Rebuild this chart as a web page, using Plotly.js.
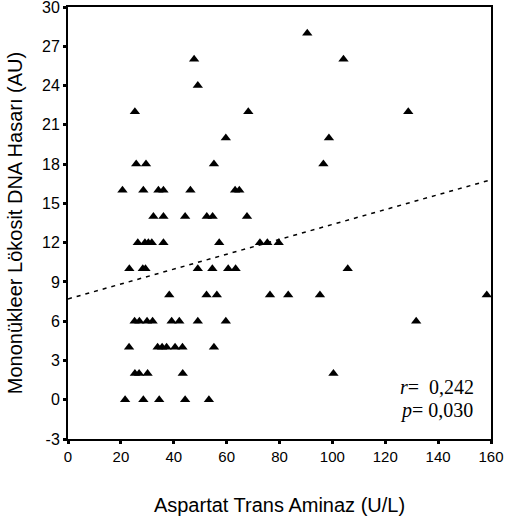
<!DOCTYPE html>
<html>
<head>
<meta charset="utf-8">
<script src="https://cdn.plot.ly/plotly-3.0.1.min.js"></script>
<style>html,body{margin:0;padding:0;background:#fff;}#chart{width:506px;height:527px;}</style>
</head>
<body>
<div id="chart"></div>
<script>
// Aspartat Trans Aminaz (U/L) values
const astValues = [
  21.6, 28.5, 34.5, 44.3, 53.3,
  25.3, 26.9, 30.1, 43.4, 100.4,
  23.1, 33.9, 35.6, 37.3, 40.5, 43.3, 55.2,
  25.2, 27.0, 29.9, 32.0, 39.2, 42.1, 49.1, 59.7, 131.7,
  38.3, 52.4, 56.3, 76.4, 83.3, 95.3, 158.4,
  23.2, 28.3, 29.3, 49.1, 54.6, 60.6, 63.4, 105.8,
  26.4, 29.1, 30.4, 31.7, 36.1, 57.2, 72.6, 75.4, 79.7,
  32.3, 36.1, 44.3, 52.5, 54.7, 67.7,
  20.6, 28.5, 34.2, 36.1, 46.3, 63.2, 64.8,
  25.8, 29.5, 55.2, 96.6,
  59.7, 98.7,
  25.3, 68.2, 128.7,
  49.1,
  47.7, 104.2,
  90.5
];
// Mononükleer Lökosit DNA Hasarı (AU) values
const dnaDamage = [
  0, 0, 0, 0, 0,
  2, 2, 2, 2, 2,
  4, 4, 4, 4, 4, 4, 4,
  6, 6, 6, 6, 6, 6, 6, 6, 6,
  8, 8, 8, 8, 8, 8, 8,
  10, 10, 10, 10, 10, 10, 10, 10,
  12, 12, 12, 12, 12, 12, 12, 12, 12,
  14, 14, 14, 14, 14, 14,
  16, 16, 16, 16, 16, 16, 16,
  18, 18, 18, 18,
  20, 20,
  22, 22, 22,
  24,
  26, 26,
  28
];
// Regression (fit) line end points
const fitX = [0, 160];
const fitY = [7.7, 16.8];
const yTicks = [-3, 0, 3, 6, 9, 12, 15, 18, 21, 24, 27, 30];
const xTicks = [0, 20, 40, 60, 80, 100, 120, 140, 160];
const statLines = ["<i>r</i>=  0,242", "<i>p</i>= 0,030"];

const traces = [
  {
    x: fitX, y: fitY, type: 'scatter', mode: 'lines',
    line: {color: '#000', width: 1.5, dash: '4px,5px'},
    hoverinfo: 'skip', showlegend: false
  },
  {
    x: astValues, y: dnaDamage, type: 'scatter', mode: 'markers',
    marker: {symbol: 'triangle-up', size: 9, color: '#000'},
    showlegend: false
  }
];

const layout = {
  width: 506, height: 527,
  margin: {l: 68, r: 15, t: 7, b: 88},
  paper_bgcolor: '#fff', plot_bgcolor: '#fff',
  font: {family: 'Arial, "Liberation Sans", sans-serif', color: '#000'},
  showlegend: false,
  xaxis: {
    range: [0, 160], tickvals: xTicks, ticktext: xTicks.map(String),
    showgrid: false, zeroline: false,
    showline: true, linecolor: '#000', linewidth: 2, mirror: true,
    ticks: 'outside', ticklen: 3, tickwidth: 3, tickcolor: '#000',
    tickfont: {size: 15, color: '#000'},
    ticklabeloverflow: 'allow',
    title: {text: 'Aspartat Trans Aminaz (U/L)', font: {size: 20, color: '#000'}, standoff: 34}
  },
  yaxis: {
    range: [-3, 30], tickvals: yTicks, ticktext: yTicks.map(String),
    showgrid: false, zeroline: false,
    showline: true, linecolor: '#000', linewidth: 2, mirror: true,
    ticks: 'outside', ticklen: 3, tickwidth: 3, tickcolor: '#000',
    tickfont: {size: 16, color: '#000'},
    ticklabeloverflow: 'allow',
    title: {text: 'Mononükleer Lökosit DNA Hasarı (AU)', font: {size: 20, color: '#000'}, standoff: 14}
  },
  annotations: [
    {x: 124.7, y: 1.0, xref: 'x', yref: 'y', text: statLines[0], showarrow: false,
     xanchor: 'left', yanchor: 'middle', font: {family: '"Liberation Serif", "Times New Roman", serif', size: 20, color: '#000'}},
    {x: 124.7, y: -0.8, xref: 'x', yref: 'y', text: statLines[1], showarrow: false,
     xanchor: 'left', yanchor: 'middle', font: {family: '"Liberation Serif", "Times New Roman", serif', size: 20, color: '#000'}}
  ]
};

Plotly.newPlot('chart', traces, layout, {staticPlot: true, displayModeBar: false});
</script>
</body>
</html>
